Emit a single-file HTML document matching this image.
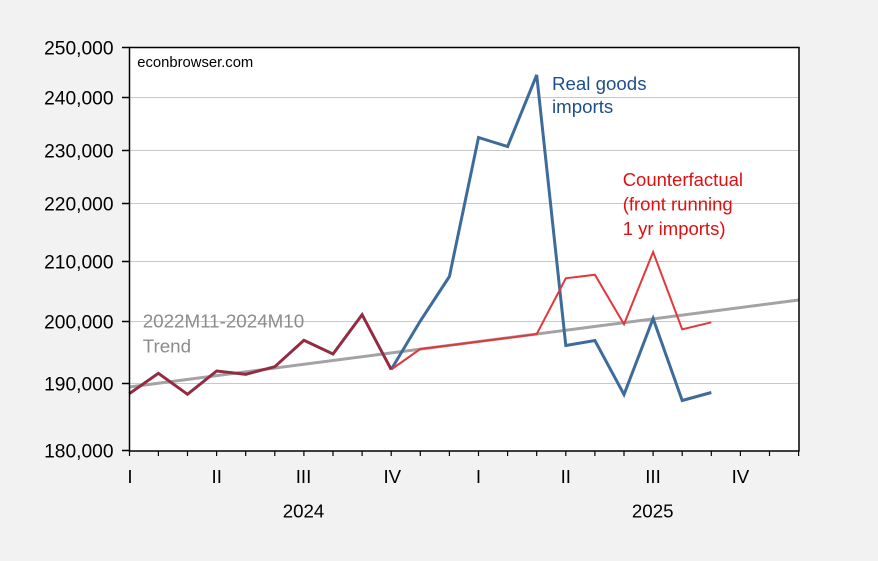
<!DOCTYPE html>
<html>
<head>
<meta charset="utf-8">
<style>
  html, body { margin:0; padding:0; background:#f2f2f2; }
  svg { display:block; }
  text { font-family: "Liberation Sans", Arial, sans-serif; }
</style>
</head>
<body>
<svg width="878" height="561" viewBox="0 0 878 561" xmlns="http://www.w3.org/2000/svg">
  <rect x="0" y="0" width="878" height="561" fill="#f2f2f2"/>
  <!-- plot area -->
  <rect x="129.5" y="47.5" width="669.5" height="403.5" fill="#ffffff"/>

  <!-- gridlines -->
  <g stroke="#c8c8c8" stroke-width="1">
    <line x1="130" y1="97.5" x2="799" y2="97.5"/>
    <line x1="130" y1="150.5" x2="799" y2="150.5"/>
    <line x1="130" y1="203.5" x2="799" y2="203.5"/>
    <line x1="130" y1="261.5" x2="799" y2="261.5"/>
    <line x1="130" y1="321.5" x2="799" y2="321.5"/>
    <line x1="130" y1="383.5" x2="799" y2="383.5"/>
  </g>

  <!-- trend -->
  <line x1="129.3" y1="387" x2="798.7" y2="300" stroke="#a3a3a3" stroke-width="3"/>

  <!-- blue real goods imports -->
  <polyline fill="none" stroke="#3d6b9b" stroke-width="3" stroke-linejoin="miter"
    points="391.2,369.5 420.3,321 449.4,276.5 478.5,137.5 507.6,146.5 536.7,75 565.8,345.5 594.9,340.5 624,394.5 653.1,318.5 682.2,400.5 711.3,392.5"/>

  <!-- red counterfactual -->
  <polyline fill="none" stroke="#e0383c" stroke-width="2" stroke-linejoin="miter"
    points="391.2,369.5 420.3,349 449.4,345.4 478.5,341.6 507.6,337.9 536.7,334.1 565.8,278.3 594.9,274.7 624,324.3 653.1,252 682.2,329.3 711.3,322.3"/>

  <!-- overlapping history (maroon) -->
  <polyline fill="none" stroke="#3d6b9b" stroke-width="3" stroke-linejoin="miter"
    points="129.3,393.7 158.4,373.3 187.5,394.3 216.6,371 245.7,374.3 274.8,366.7 303.9,340.3 333,354 362.1,314.7 391.2,369.5"/>
  <polyline fill="none" stroke="#a0263a" stroke-width="2.6" stroke-linejoin="miter"
    points="129.3,393.7 158.4,373.3 187.5,394.3 216.6,371 245.7,374.3 274.8,366.7 303.9,340.3 333,354 362.1,314.7 391.2,369.5"/>

  <!-- frame -->
  <rect x="129.5" y="47.5" width="669.5" height="403.5" fill="none" stroke="#000" stroke-width="1.5"/>

  <!-- y ticks -->
  <g stroke="#000" stroke-width="1.5">
    <line x1="122" y1="47.5" x2="129.5" y2="47.5"/>
    <line x1="122" y1="97.5" x2="129.5" y2="97.5"/>
    <line x1="122" y1="150.5" x2="129.5" y2="150.5"/>
    <line x1="122" y1="203.5" x2="129.5" y2="203.5"/>
    <line x1="122" y1="261.5" x2="129.5" y2="261.5"/>
    <line x1="122" y1="321.5" x2="129.5" y2="321.5"/>
    <line x1="122" y1="383.5" x2="129.5" y2="383.5"/>
    <line x1="122" y1="450.5" x2="129.5" y2="450.5"/>
  </g>
  <!-- x ticks -->
  <g stroke="#000" stroke-width="1.2">
    <line x1="129.5" y1="451" x2="129.5" y2="456"/>
    <line x1="158.4" y1="451" x2="158.4" y2="456"/>
    <line x1="187.5" y1="451" x2="187.5" y2="456"/>
    <line x1="216.6" y1="451" x2="216.6" y2="456"/>
    <line x1="245.7" y1="451" x2="245.7" y2="456"/>
    <line x1="274.8" y1="451" x2="274.8" y2="456"/>
    <line x1="303.9" y1="451" x2="303.9" y2="456"/>
    <line x1="333" y1="451" x2="333" y2="456"/>
    <line x1="362.1" y1="451" x2="362.1" y2="456"/>
    <line x1="391.2" y1="451" x2="391.2" y2="456"/>
    <line x1="420.3" y1="451" x2="420.3" y2="456"/>
    <line x1="449.4" y1="451" x2="449.4" y2="456"/>
    <line x1="478.5" y1="451" x2="478.5" y2="456"/>
    <line x1="507.6" y1="451" x2="507.6" y2="456"/>
    <line x1="536.7" y1="451" x2="536.7" y2="456"/>
    <line x1="565.8" y1="451" x2="565.8" y2="456"/>
    <line x1="594.9" y1="451" x2="594.9" y2="456"/>
    <line x1="624" y1="451" x2="624" y2="456"/>
    <line x1="653.1" y1="451" x2="653.1" y2="456"/>
    <line x1="682.2" y1="451" x2="682.2" y2="456"/>
    <line x1="711.3" y1="451" x2="711.3" y2="456"/>
    <line x1="740.4" y1="451" x2="740.4" y2="456"/>
    <line x1="769.5" y1="451" x2="769.5" y2="456"/>
    <line x1="798.6" y1="451" x2="798.6" y2="456"/>
  </g>

  <!-- y labels -->
  <g font-size="19.2" fill="#000" text-anchor="end">
    <text x="113.5" y="54.4">250,000</text>
    <text x="113.5" y="104.4">240,000</text>
    <text x="113.5" y="157.4">230,000</text>
    <text x="113.5" y="210.4">220,000</text>
    <text x="113.5" y="268.4">210,000</text>
    <text x="113.5" y="328.4">200,000</text>
    <text x="113.5" y="390.4">190,000</text>
    <text x="113.5" y="457.4">180,000</text>
  </g>

  <!-- x labels -->
  <g font-size="18.7" fill="#000" text-anchor="middle">
    <text x="130" y="483">I</text>
    <text x="216.7" y="483">II</text>
    <text x="303.5" y="483">III</text>
    <text x="392.3" y="483">IV</text>
    <text x="478.5" y="483">I</text>
    <text x="565.8" y="483">II</text>
    <text x="653" y="483">III</text>
    <text x="740.4" y="483">IV</text>
    <text x="303.5" y="517.5">2024</text>
    <text x="652.7" y="517.5">2025</text>
  </g>

  <!-- annotations -->
  <text x="137.3" y="67" font-size="14.8" fill="#000">econbrowser.com</text>
  <g font-size="18.7" fill="#1f4e8c">
    <text x="552" y="90">Real goods</text>
    <text x="552" y="113">imports</text>
  </g>
  <g font-size="18.5" fill="#dd1111">
    <text x="622.7" y="186">Counterfactual</text>
    <text x="622.7" y="210.5">(front running</text>
    <text x="622.7" y="235">1 yr imports)</text>
  </g>
  <g font-size="18.8" fill="#8c8c8c">
    <text x="142.7" y="327.7">2022M11-2024M10</text>
    <text x="142.7" y="352.3">Trend</text>
  </g>
</svg>
</body>
</html>
